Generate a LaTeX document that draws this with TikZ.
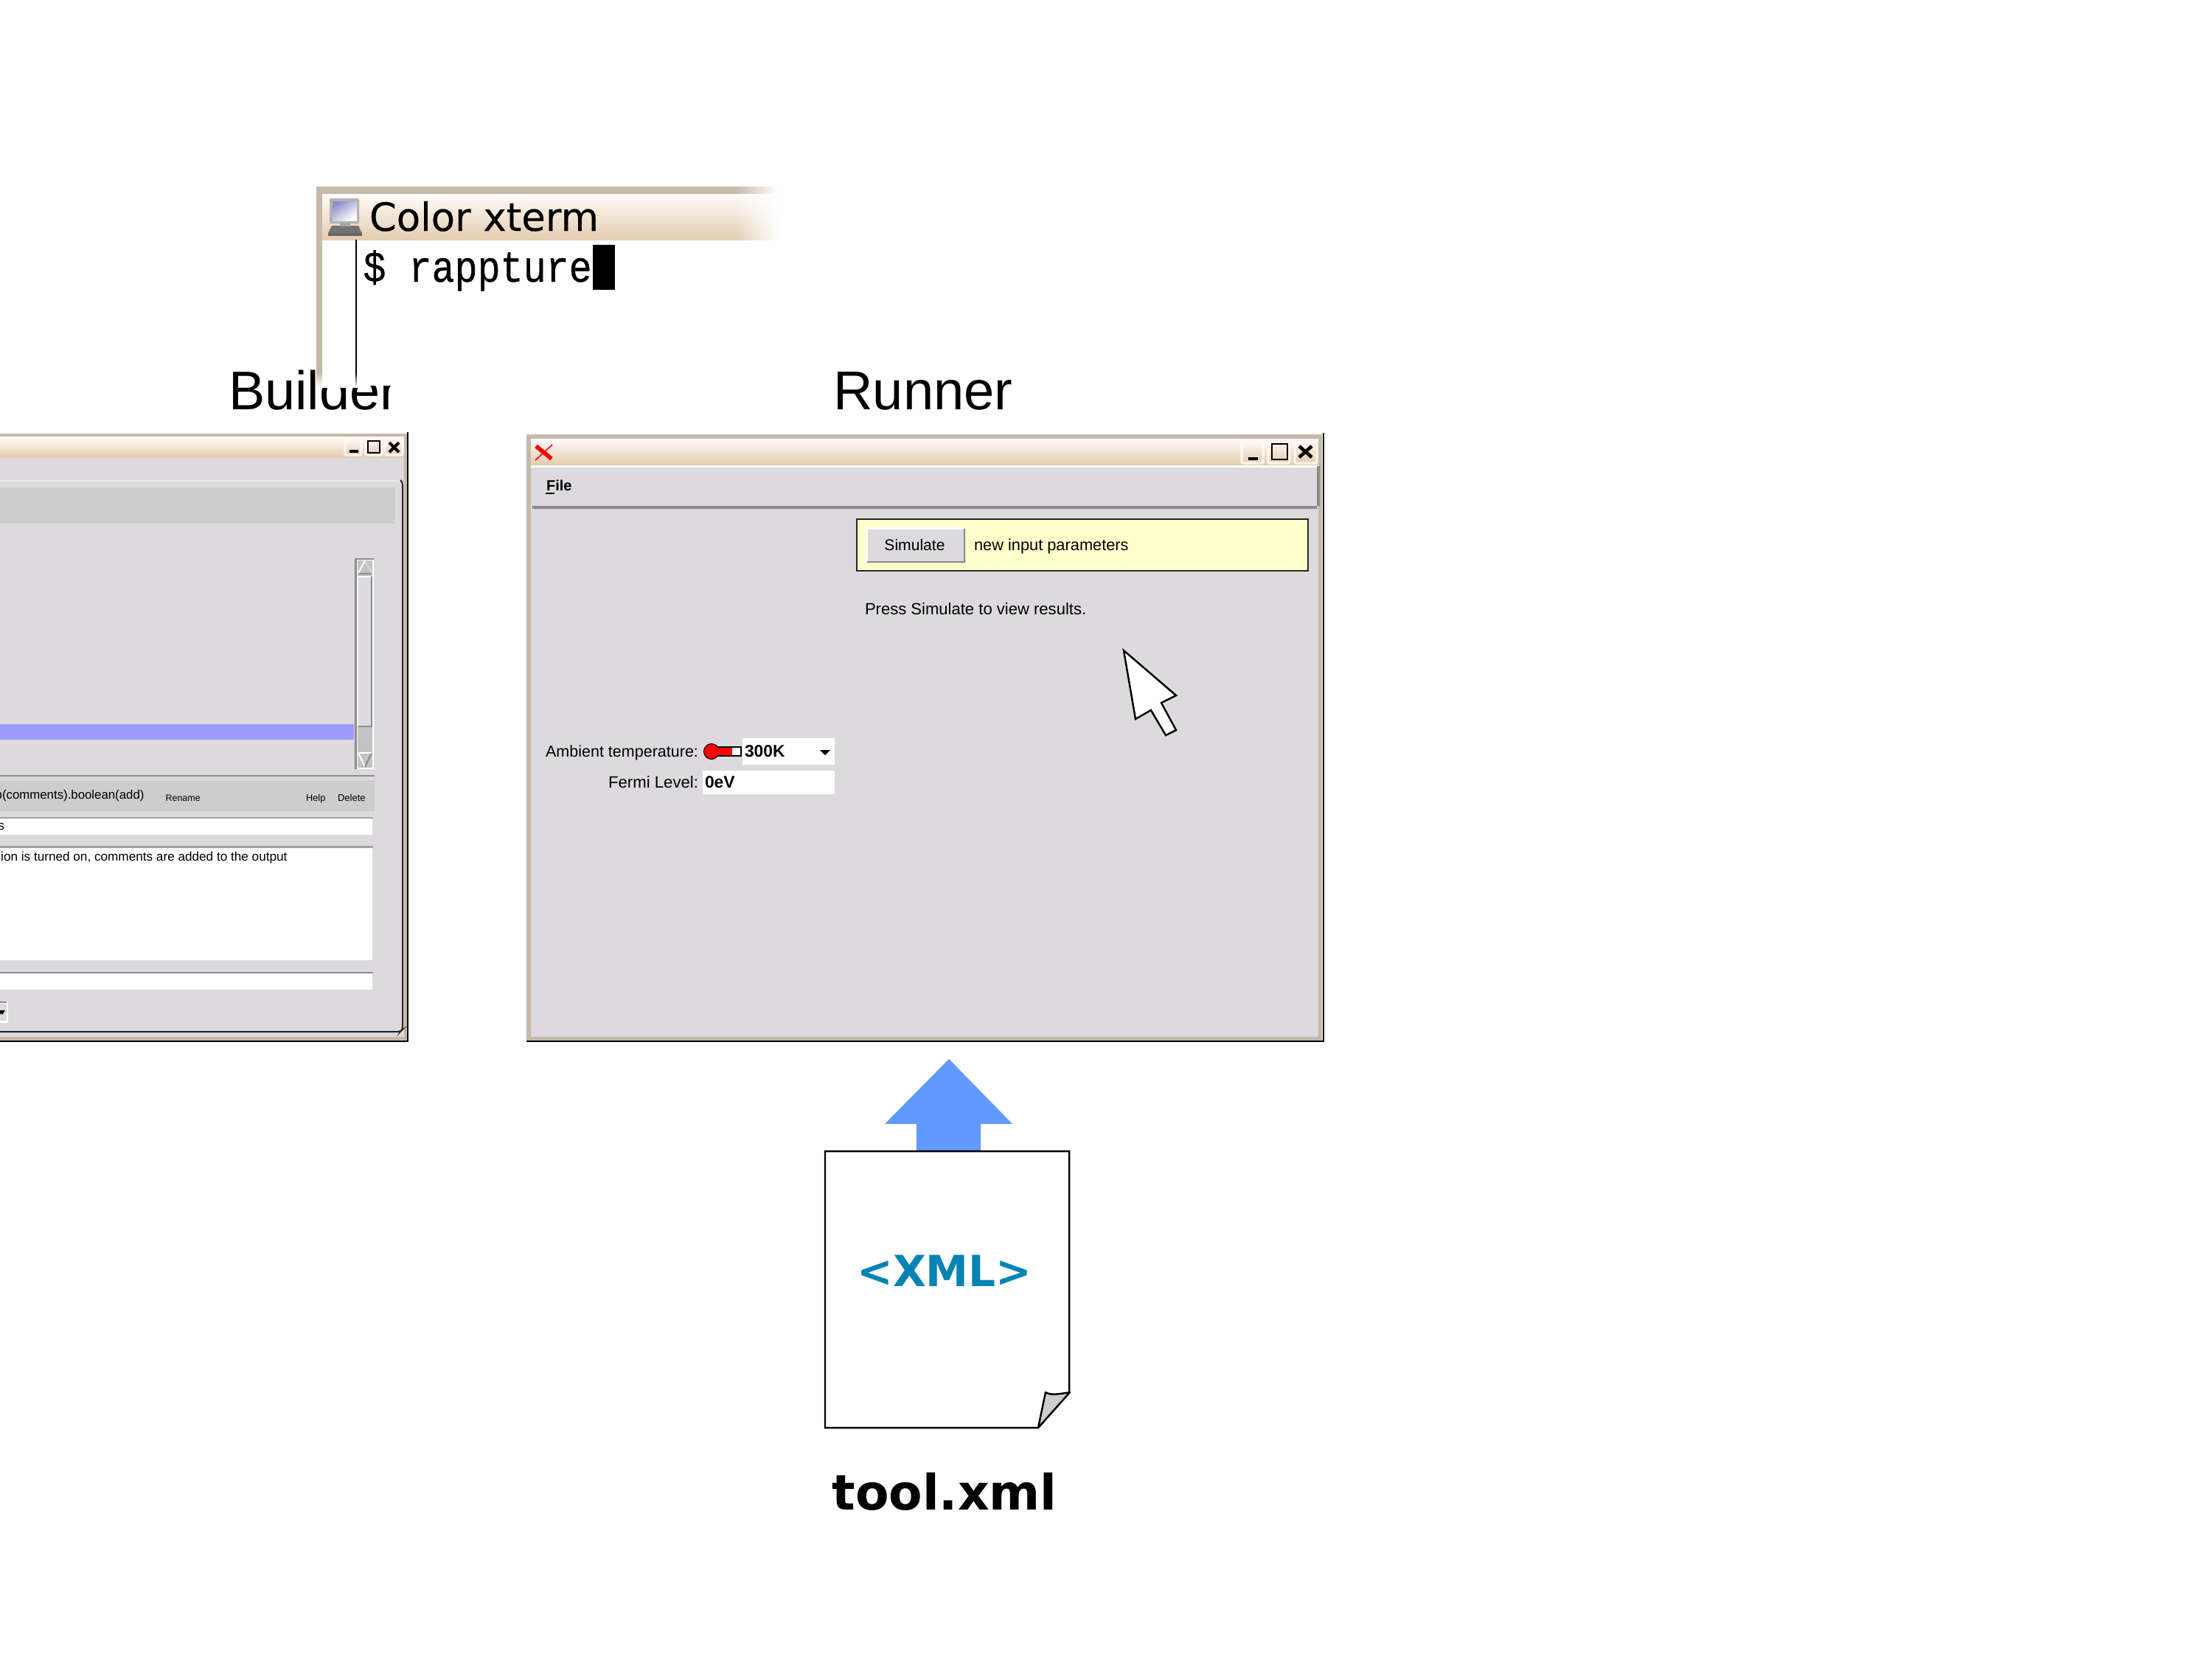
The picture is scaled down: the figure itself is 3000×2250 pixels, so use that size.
\documentclass[tikz,border=0pt]{standalone}
\usepackage{fontspec}
\usepackage{graphicx}
\setmainfont{Liberation Sans}
\newfontfamily\djv{DejaVu Sans}
\newfontfamily\djvtitle[FakeBold=0.3]{DejaVu Sans}
\newfontfamily\lmono[FakeBold=0.6]{Liberation Mono}
\usetikzlibrary{calc}
\definecolor{winbg}{HTML}{DCDADD}
\definecolor{beige}{HTML}{C5B9AA}
\definecolor{bandgray}{HTML}{CDCDCD}
\definecolor{titletop}{HTML}{FFFCFA}
\definecolor{titlebot}{HTML}{E4CCAF}
\definecolor{btnpale}{HTML}{FDF7F0}
\definecolor{bevel}{HTML}{8C8A8E}
\definecolor{hilite}{HTML}{9C9CFF}
\definecolor{note}{HTML}{FFFFCC}
\definecolor{arrowblue}{HTML}{6199FF}
\definecolor{xmlblue}{HTML}{0583B4}
\newcommand\pxf[1]{\fontsize{#1}{#1}\selectfont}
\tikzset{
  x=0.01cm,y=-0.01cm,
  txt/.style={inner sep=0pt,outer sep=0pt,anchor=base west,text=black},
  txtr/.style={inner sep=0pt,outer sep=0pt,anchor=base east,text=black},
  txtc/.style={inner sep=0pt,outer sep=0pt,anchor=base,text=black},
  titlebar/.style={top color=titletop,bottom color=titlebot,draw=none},
  pale/.style={draw=btnpale,line width=0.9pt,rounded corners=0.6pt,top color=titletop,bottom color=titlebot},
  px2/.style={line width=0.57pt},
  px1/.style={line width=0.3pt},
  entry/.style={fill=white,draw=none},
}
\begin{document}
\begin{tikzpicture}
\useasboundingbox (0,0) rectangle (3000,2250);
\clip (0,0) rectangle (3000,2250);
\fill[white] (0,0) rectangle (3000,2250);

% ---------- headings
\node[txt,font=\pxf{21pt}] (builderlabel) at (310,555) {Builder};
\node[txtc,font=\pxf{21.1pt}] (runnerlabel) at (1252,555) {Runner};

% ---------- Builder window
\fill[beige] (-5,588) rectangle (553,1412);
\draw[black,px2] (553,586) -- (553,1412) -- (-5,1412);
\fill[winbg] (-5,592) rectangle (548,1406);
\fill[titlebar] (-5,592) rectangle (548,620);
\path[pale] (468,594) rectangle (490,617);
\path[pale] (496,594) rectangle (518,617);
\path[pale] (522,594) rectangle (546,617);
\draw[black,line width=0.9pt] (474,612) -- (485.5,612);
\draw[black,line width=0.5pt] (499,598) rectangle (515,614);
\draw[black,line width=1.1pt] (528,600) -- (541,613) (541,600) -- (528,613);
\draw[white!93!black,px2] (-5,652) -- (543,652);
\draw[black!85,px2,rounded corners=1pt] (543,651) -- (546,654) -- (546,1396) -- (543,1399) -- (-5,1399);
\fill[bandgray] (-5,661) rectangle (536,710);
\fill[hilite] (-5,982) rectangle (480,1003);
% scrollbar
\fill[bevel] (481,757) rectangle (507,1043);
\fill[white] (484,759) rectangle (507,1043);
\fill[bandgray!95!black] (485,760) rectangle (505,1041);
\fill[winbg] (486,783) rectangle (503,984);
\draw[white,px2] (485,985) -- (485,782) -- (503,782);
\draw[bevel,px2] (504,782) -- (504,985) -- (486,985);
\draw[white,px2] (486,777) -- (495,760);
\draw[white!20!bandgray,px2] (495,760) -- (504,777) ;
\draw[bevel,px2] (486,778) -- (504,778);
\draw[white,px2] (486,1021) -- (495,1040);
\draw[bevel,px2] (495,1040) -- (504,1021);
\draw[white,px2] (486,1021) -- (504,1021);
% lower panel
\draw[bevel,line width=0.5pt] (-5,1052) -- (508,1052);
\fill[bandgray] (-5,1058) rectangle (508,1100);
\node[txtr,font=\pxf{4.78pt}] (nodepath) at (195.5,1083) {p(comments).boolean(add)};
\node[txt,font=\pxf{3.55pt}] (renamebtn) at (224.6,1086) {Rename};
\node[txt,font=\pxf{3.65pt}] (helpbtn) at (415,1086) {Help};
\node[txt,font=\pxf{3.7pt}] (deletebtn) at (458,1086) {Delete};
\fill[entry] (-5,1108) rectangle (505,1132);
\draw[bevel!80!white,px2] (-5,1108.5) -- (506,1108.5);
\node[txtr,font=\pxf{4.9pt}] (labeltext) at (6,1125) {s};
\fill[entry] (-5,1148) rectangle (505,1302);
\draw[bevel!80!white,line width=0.7pt] (-5,1148.5) -- (506,1148.5);
\node[txtr,font=\pxf{4.88pt}] (helptext) at (389.5,1167) {ion is turned on, comments are added to the output};
\fill[entry] (-5,1318) rectangle (505,1342);
\draw[bevel,px2] (-5,1318.5) -- (506,1318.5);
\fill[white] (-5,1358) rectangle (11,1387);
\fill[winbg] (-5,1361) rectangle (9,1384);
\draw[bevel,px2] (-5,1359) -- (9,1359);
\fill[black] (-1,1370) -- (7,1370) -- (3,1376) -- cycle;
\fill[black] (-5,1370) -- (3,1370) -- (-1,1378) -- cycle;

% ---------- Runner window
\fill[beige] (714,589) rectangle (1793,1412);
\draw[black,px2] (1795,587) -- (1795,1412) -- (714,1412);
\fill[winbg] (720,595) rectangle (1788,1406);
\fill[white] (720,625) rectangle (1788,634);
\fill[titlebar] (720,595) rectangle (1788,630);
\fill[winbg] (723,634) rectangle (1786,686);
\fill[bevel] (722,686) -- (1790,686) -- (1790,632) -- (1786,632) -- (1786,690) -- (722,690) -- cycle;
\path[pale] (1684,597) rectangle (1713,628);
\path[pale] (1720,597) rectangle (1749,628);
\path[pale] (1756,597) rectangle (1786,628);
\draw[black,line width=1pt] (1693,622) -- (1706,622);
\draw[black,line width=0.6pt] (1725,602) rectangle (1746,623);
\draw[black,line width=1.3pt] (1762,605) -- (1779,620) (1779,605) -- (1762,620);
\draw[red,line width=1.6pt] (727,605) -- (748,622);
\draw[red,line width=0.45pt] (749,603) -- (726,624);
\node[txt,font=\pxf{5.7pt}\bfseries] (filemenu) at (741,665) {File};
\draw[black,line width=0.3pt] (740,669) -- (752,669);
% note
\draw[black!85,fill=note,px2] (1162,704) rectangle (1774,774);
\fill[white] (1174,715) rectangle (1307,761);
\fill[bevel] (1176,763) -- (1309,763) -- (1309,717) -- (1307,717) -- (1307,761) -- (1176,761) -- cycle;
\fill[winbg] (1177,718) rectangle (1307,761);
\node[txtc,font=\pxf{6pt}] (simulate) at (1240.5,746) {Simulate};
\node[txt,font=\pxf{6.2pt}] (newinput) at (1321,746) {new input parameters};
\node[txt,font=\pxf{6.27pt}] (pressmsg) at (1173,833) {Press Simulate to view results.};
% pointer
\draw[black,fill=white,line width=0.7pt,miter limit=6] (1524,882) -- (1595,943) -- (1575,953) -- (1595,990) -- (1581,997) -- (1561,963) -- (1540,975) -- cycle;
% inputs
\node[txtr,font=\pxf{6.12pt}] (ambient) at (947,1026) {Ambient temperature:};
\node[txtr,font=\pxf{6.3pt}] (fermi) at (947,1068) {Fermi Level:};
\fill[white] (1007,1001) rectangle (1132,1037);
\draw[black,fill=white,px2] (975,1013) rectangle (1005,1025);
\fill[red] (975,1014) rectangle (993,1024);
\draw[black,fill=red,px1] (965,1019) circle (10.5);
\fill[red] (965,1014) rectangle (980,1024);
\node[txt,font=\pxf{6.5pt}\bfseries] (tempvalue) at (1010,1026) {300K};
\fill[black] (1112,1017) -- (1126,1017) -- (1119,1024) -- cycle;
\fill[white] (953,1045) rectangle (1132,1077);
\node[txt,font=\pxf{6.5pt}\bfseries] (fermivalue) at (956,1068) {0eV};

% ---------- xterm overlay
\fill[white] (428,253) rectangle (1056,523);
\fill[beige] (428.5,253) rectangle (1056,263);
\fill[beige] (428.5,253) rectangle (437,525);
\fill[titlebar] (437,263) rectangle (1056,325);
\draw[black,px1] (483,325) -- (483,525);
\foreach \i in {0,...,28}{
  \pgfmathsetmacro\op{(\i+1)/29}
  \fill[white,opacity=\op] ({998+2*\i},253) rectangle ({1000.2+2*\i},325.5);
}
\foreach \i in {0,...,19}{
  \pgfmathsetmacro\op{(\i+1)/20}
  \fill[white,opacity=\op] (428.4,{506+\i}) rectangle (490,{507.2+\i});
}
% icon
\fill[black!60] (445,316) -- (491,316) -- (491,320) -- (445,320) -- cycle;
\fill[black!55] (450,306) -- (486,306) -- (491,316) -- (445,316) -- cycle;
\fill[black!35] (461,301) rectangle (475,307);
\fill[black!30,rounded corners=0.5pt] (447,269) rectangle (487,303);
\path[top color=white!70!blue!80!black,bottom color=white,shading angle=35] (451,273) rectangle (484,299);
\node[txt,font=\pxf{15pt}\djvtitle] (xtermtitle) at (501,313) {Color xterm};
\node[txt,font=\lmono] (prompt) at (492.5,382) {\scalebox{1}[1.15]{\pxf{14.7pt}\$ rappture}};
\fill[black] (804,332) rectangle (834,393);

% ---------- arrow and XML file
\fill[arrowblue] (1287,1436) -- (1373,1524) -- (1330,1524) -- (1330,1562) -- (1243,1562) -- (1243,1524) -- (1200,1524) -- cycle;
\draw[black,fill=white,line width=0.7pt,line join=miter] (1119,1561) -- (1450,1561) -- (1450,1888) -- (1408,1936) -- (1119,1936) -- cycle;
\draw[black,fill=bandgray,line width=0.7pt,line join=round] (1408,1936) -- (1418,1888) .. controls (1425,1892) and (1432,1891) .. (1451,1888) -- cycle;
\node[txtc,font=\pxf{16.55pt}\djv\bfseries,text=xmlblue] (xmllabel) at (1281,1744) {<XML>};
\node[txtc,font=\pxf{18.85pt}\djv\bfseries] (filelabel) at (1281,2047) {tool.xml};
\end{tikzpicture}
\end{document}
